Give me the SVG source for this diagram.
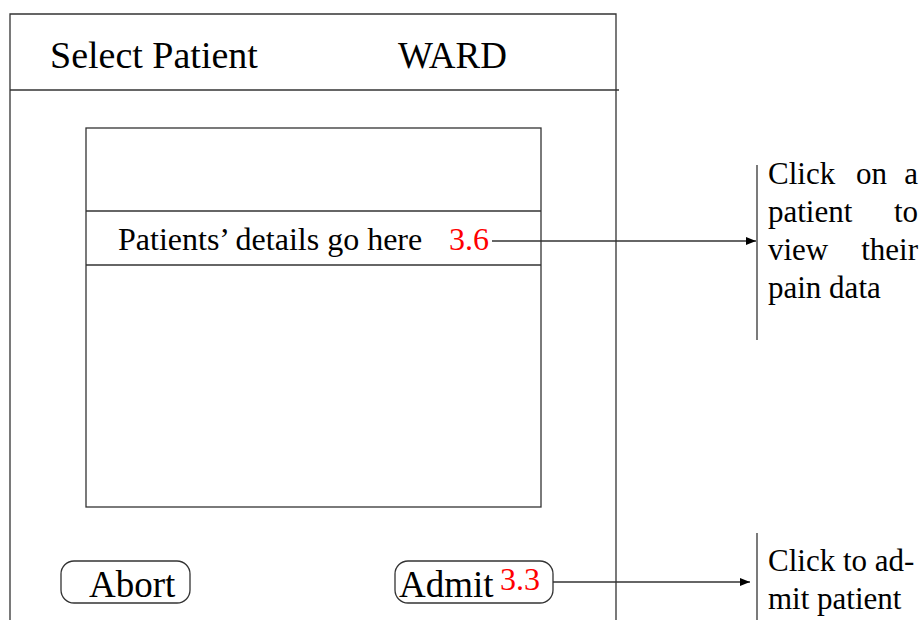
<svg xmlns="http://www.w3.org/2000/svg" width="923" height="620" viewBox="0 0 923 620">
<style>
.ln{stroke:#333;stroke-width:1.3;fill:none}
.t{font-family:"Liberation Serif","Times New Roman",serif;fill:#000}
.r{font-family:"Liberation Serif","Times New Roman",serif;fill:#f00}
.e{text-anchor:end}
</style>
<defs>
<marker id="ah" markerWidth="10" markerHeight="8" refX="10" refY="4" orient="auto" markerUnits="userSpaceOnUse">
<path d="M0,0 L10,4 L0,8 Z" fill="#000"/>
</marker>
</defs>
<rect width="923" height="620" fill="#fff"/>
<g id="frame">
<path class="ln" d="M10,625 V14 H616 V625"/>
<line class="ln" x1="10" y1="90" x2="619" y2="90"/>
<text class="t" x="50" y="68" font-size="38">Select Patient</text>
<text class="t" x="398" y="68" font-size="37">WARD</text>
</g>
<g id="list">
<rect class="ln" x="86" y="128" width="455" height="379"/>
<line class="ln" x1="86" y1="211" x2="541" y2="211"/>
<line class="ln" x1="86" y1="265" x2="541" y2="265"/>
<text class="t" x="118" y="250" font-size="32">Patients’ details go here</text>
<text class="r" x="449" y="250" font-size="32">3.6</text>
</g>
<g id="abort">
<rect class="ln" x="61" y="561" width="129" height="42" rx="13"/>
<text class="t" x="89" y="597" font-size="37">Abort</text>
</g>
<g id="admit">
<rect class="ln" x="395" y="561" width="158" height="42" rx="13"/>
<text class="t" x="399" y="597" font-size="37">Admit</text>
<text class="r" x="500" y="590" font-size="32">3.3</text>
</g>
<g id="note1">
<line class="ln" x1="757" y1="165" x2="757" y2="340"/>
<g class="t" font-size="31">
<text x="768" y="184">Click</text><text x="856" y="184">on</text><text class="e" x="918" y="184">a</text>
<text x="768" y="222">patient</text><text class="e" x="918" y="222">to</text>
<text x="768" y="260">view</text><text class="e" x="918" y="260">their</text>
<text x="768" y="298">pain data</text>
</g>
</g>
<g id="note2">
<line class="ln" x1="757" y1="533" x2="757" y2="625"/>
<text class="t" font-size="31"><tspan x="768" y="571">Click to ad-</tspan><tspan x="768" y="609">mit patient</tspan></text>
</g>
<g id="connectors">
<line class="ln" x1="492" y1="241" x2="756" y2="241" marker-end="url(#ah)"/>
<line class="ln" x1="553" y1="582" x2="750" y2="582" marker-end="url(#ah)"/>
</g>
</svg>
